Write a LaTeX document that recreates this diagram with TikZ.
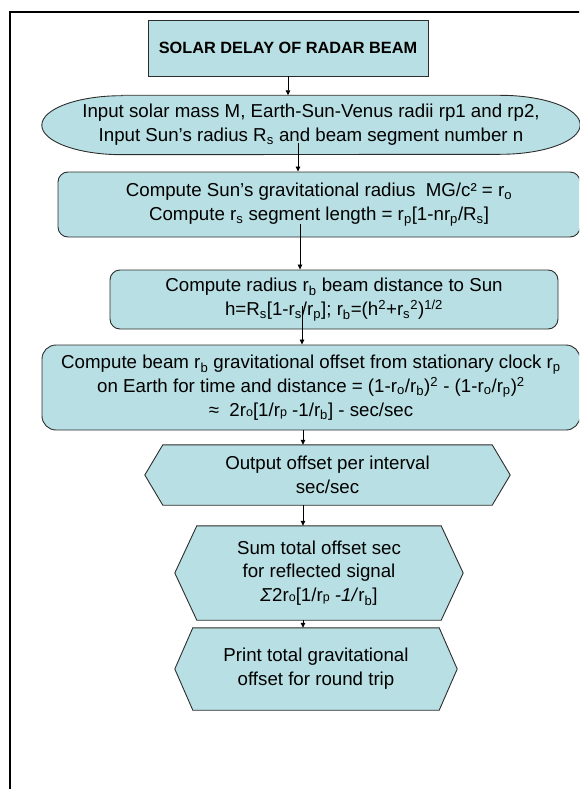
\documentclass[tikz,border=0pt]{standalone}
\usepackage{fontspec}
\setmainfont{Liberation Sans}
\usetikzlibrary{arrows.meta,backgrounds,calc}
\definecolor{boxfill}{RGB}{184,223,227}
\definecolor{boxline}{RGB}{45,45,45}
\newcommand\sbs[1]{\textsubscript{#1}}
\newcommand\sps[1]{\textsuperscript{#1}}
\newcommand\sml[1]{{\fontsize{12.5}{12.5}\selectfont #1}}
\begin{document}
\begin{tikzpicture}[x=1pt,y=-1pt,
  txt/.style={font=\fontsize{18.7}{23.8}\selectfont, align=center, inner sep=0pt},
  rbox/.style={txt, draw=boxline, fill=boxfill, line width=0.9pt, rounded corners=10pt},
  body/.style={txt, draw=none},
  shapeline/.style={draw=boxline, fill=boxfill, line width=0.9pt},
  conn/.style={line width=0.8pt, -{Triangle[length=5pt,width=4.5pt]}}
]
\useasboundingbox (0,0) rectangle (579,789);
\begin{scope}
\clip (0,0) rectangle (579,789);
\draw[line width=1.6pt] (10,12) rectangle (640,840);

\node[txt, draw=boxline, fill=boxfill, line width=0.9pt, minimum width=280pt, minimum height=56pt,
      font=\bfseries\fontsize{16.3}{19}\selectfont] (title) at (288,48) {SOLAR DELAY OF RADAR BEAM};

\node[body, minimum width=538pt, minimum height=59pt] (inp) at (311,125)
  {Input solar mass M, Earth-Sun-Venus radii rp1 and rp2,\\
   Input Sun’s radius R\sbs{s} and beam segment number n};

\node[rbox, minimum width=522pt, minimum height=65pt] (b2) at (319,204.5)
  {Compute Sun’s gravitational radius\ \ MG/c² = r\sbs{o}\\
   Compute r\sbs{s} segment length = r\sbs{p}[1-nr\sbs{p}/R\sbs{s}]};

\node[rbox, minimum width=448pt, minimum height=59pt] (b3) at (334,299.5)
  {Compute radius r\sbs{b} beam distance to Sun\\
   h=R\sbs{s}[1-r\sbs{s}/r\sbs{p}]; r\sbs{b}=(h\sps{2}+r\sbs{s}\sps{2})\sps{1/2}};

\node[rbox, rounded corners=14pt, minimum width=538pt, minimum height=85pt] (b4) at (311,387.5)
  {Compute beam r\sbs{b} gravitational offset from stationary clock r\sbs{p}\\
   on Earth for time and distance = (1-r\sbs{o}/r\sbs{b})\sps{2} - (1-r\sbs{o}/r\sbs{p})\sps{2}\\
   ≈\ \ 2r\sml{o}[1/r\sml{p} -1/r\sbs{b}] - sec/sec};

\node[body, minimum width=329pt, minimum height=60pt] (h1) at (327.5,475)
  {Output offset per interval\\ sec/sec};

\node[body, minimum width=244pt, minimum height=94pt] (h2) at (319,573)
  {Sum total offset sec\\ for reflected signal\\ \textit{Σ}2r\sml{o}[1/r\sml{p} \textit{-1/}r\sbs{b}]};

\node[body, minimum width=246pt, minimum height=82pt] (h3) at (316,669)
  {Print total gravitational\\ offset for round trip};

\begin{pgfonlayer}{background}
\path[shapeline] ($(inp.north west)+(80,0)$) -- ($(inp.north east)+(-80,0)$)
   arc[start angle=90, end angle=-90, x radius=80pt, y radius=29.5pt]
   -- ($(inp.south west)+(80,0)$)
   arc[start angle=270, end angle=90, x radius=80pt, y radius=29.5pt] -- cycle;
\path[shapeline] (h1.north west) -- (h1.north east) -- ($(h1.east)+(18,0)$) -- (h1.south east)
   -- (h1.south west) -- ($(h1.west)+(-18,0)$) -- cycle;
\path[shapeline] (h2.north west) -- (h2.north east) -- ($(h2.east)+(22,0)$) -- (h2.south east)
   -- (h2.south west) -- ($(h2.west)+(-22,0)$) -- cycle;
\path[shapeline] (h3.north west) -- (h3.north east) -- ($(h3.east)+(18,0)$) -- (h3.south east)
   -- (h3.south west) -- ($(h3.west)+(-18,0)$) -- cycle;
\end{pgfonlayer}

\coordinate (s2) at (298,143);
\coordinate (s3) at (300,224);
\coordinate (s4) at (302,306);
\coordinate (s5) at (303,430);

\draw[conn] (title.south) -- (title.south |- inp.north);
\draw[conn] (s2) -- (s2 |- b2.north);
\draw[conn] (s3) -- (s3 |- b3.north);
\draw[conn] (s4) -- (s4 |- b4.north);
\draw[conn] (s5 |- b4.south) -- (s5 |- h1.north);
\draw[conn] (s5 |- h1.south) -- (s5 |- h2.north);
\draw[conn] (s5 |- h2.south) -- (s5 |- h3.north);
\end{scope}
\end{tikzpicture}
\end{document}
